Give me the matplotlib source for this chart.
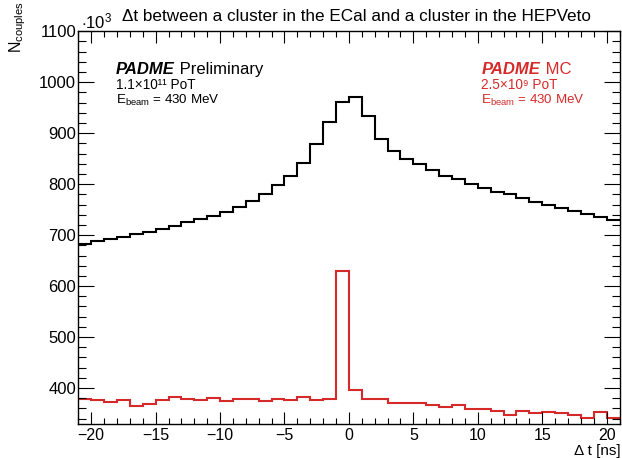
import matplotlib
matplotlib.use("Agg")
import matplotlib.pyplot as plt
from matplotlib.ticker import MultipleLocator

# ---- data: 1 ns bins from -21 to 21 ns, counts in units of 10^3 ----
bin_edges = list(range(-21, 22))

data_counts = [682, 688, 692, 697, 702, 706, 712, 718, 725, 732, 738, 746,
               755, 767, 781, 798, 816, 842, 879, 923, 961, 972, 934, 889,
               866, 850, 840, 828, 817, 810, 800, 792, 785, 781, 772, 766,
               760, 754, 748, 741, 735, 729]

mc_counts = [379, 377, 373, 376, 365, 369, 376, 382, 378, 377, 380, 375,
             379, 379, 374, 379, 377, 382, 377, 379, 629, 397, 379, 379,
             370, 370, 370, 366, 363, 366, 358, 358, 355, 348, 355, 351,
             353, 351, 348, 342, 353, 342]

x_range = (-21, 21)
y_range = (330, 1100)

title_text = "\u0394t between a cluster in the ECal and a cluster in the HEPVeto"
xlabel_text = "\u0394 t [ns]"
red = "#d62a2a"

plt.rcParams["font.family"] = ["Liberation Sans", "DejaVu Sans"]
plt.rcParams["mathtext.fontset"] = "custom"
plt.rcParams["mathtext.rm"] = "Liberation Sans"
plt.rcParams["mathtext.it"] = "Liberation Sans:italic"
plt.rcParams["mathtext.bf"] = "Liberation Sans:bold"

W, H = 622, 458
fig = plt.figure(figsize=(W / 100, H / 100), dpi=100)


def fx(x):
    return x / W


def fy(y):
    return 1 - y / H


left, right, top, bottom = 78.3, 619.5, 31.3, 423.7
ax = fig.add_axes([fx(left), fy(bottom), fx(right - left), (bottom - top) / H])

ax.stairs(data_counts, bin_edges, baseline=None, color="black", linewidth=1.5)
ax.stairs(mc_counts, bin_edges, baseline=None, color=red, linewidth=1.5)

ax.set_xlim(*x_range)
ax.set_ylim(*y_range)

ax.xaxis.set_major_locator(MultipleLocator(5))
ax.xaxis.set_minor_locator(MultipleLocator(1))
ax.yaxis.set_major_locator(MultipleLocator(100))
ax.yaxis.set_minor_locator(MultipleLocator(20))

ax.tick_params(which="both", direction="in", top=True, right=True,
               width=0.8, colors="black")
ax.tick_params(axis="y", which="major", length=11.5, pad=1.5, labelsize=12)
ax.tick_params(axis="y", which="minor", length=5.8)
ax.tick_params(axis="x", which="major", length=8.6, pad=3, labelsize=11.5)
ax.tick_params(axis="x", which="minor", length=4.3)
for sp in ax.spines.values():
    sp.set_linewidth(1.0)

# axis titles, exponent and title
fig.text(fx(18), fy(1), r"N$_{\mathrm{couples}}$", rotation=90,
         ha="center", va="top", fontsize=11.5)
fig.text(fx(621), fy(458), xlabel_text, ha="right", va="bottom", fontsize=11)
fig.text(fx(81), fy(28), r"$\cdot$10$^{3}$", ha="left", va="baseline", fontsize=12)
fig.text(fx(122), fy(21), title_text, ha="left", va="baseline", fontsize=12.3)

# data annotation
t1 = fig.text(fx(116), fy(77), "PADME", ha="left", va="bottom",
              fontsize=12, fontweight="bold", fontstyle="italic")
ax.annotate(" Preliminary", xy=(1, 0), xycoords=t1, ha="left", va="bottom",
            fontsize=12, annotation_clip=False)
fig.text(fx(116), fy(89), "1.1\u00d710\u00b9\u00b9 PoT", ha="left", va="baseline", fontsize=9.8)
fig.text(fx(116), fy(103.5), "E$_{\\mathrm{beam}}$ = 430 MeV", ha="left", va="baseline", fontsize=9.6)

# simulation annotation
t2 = fig.text(fx(482), fy(77), "PADME", ha="left", va="bottom", color=red,
              fontsize=12, fontweight="bold", fontstyle="italic")
ax.annotate(" MC", xy=(1, 0), xycoords=t2, ha="left", va="bottom", color=red,
            fontsize=12, annotation_clip=False)
fig.text(fx(481), fy(89), "2.5\u00d710\u2079 PoT", ha="left", va="baseline",
         fontsize=9.8, color=red)
fig.text(fx(481), fy(103.5), "E$_{\\mathrm{beam}}$ = 430 MeV", ha="left", va="baseline",
         fontsize=9.6, color=red)

fig.savefig("out.png", dpi=100)
